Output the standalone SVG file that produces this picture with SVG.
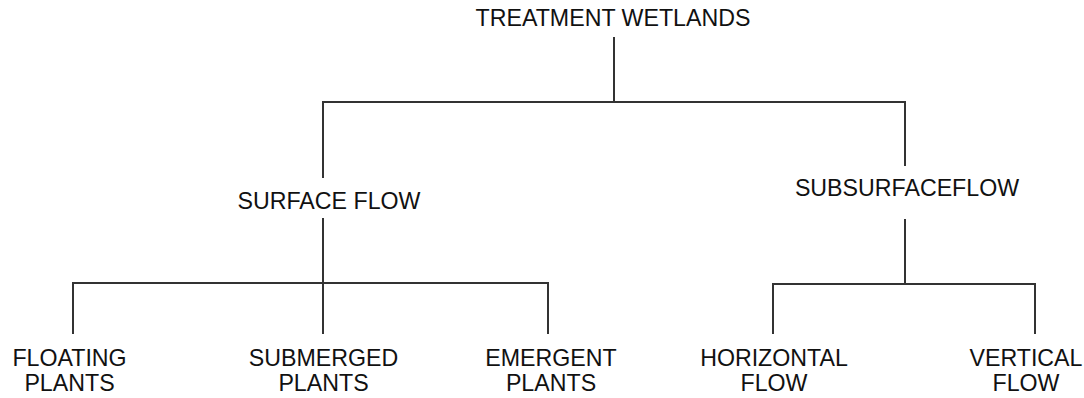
<svg xmlns="http://www.w3.org/2000/svg" width="1084" height="398" viewBox="0 0 1084 398">
<style>
text{font-family:"Liberation Sans",Arial,sans-serif;font-size:23.2px;fill:#111;text-anchor:middle}
.c line{stroke:#333;stroke-width:2;fill:none}
</style>
<rect width="1084" height="398" fill="#fff"/>
<g class="c" id="connectors">
<line x1="614" y1="37" x2="614" y2="102"/>
<line x1="323" y1="102" x2="905" y2="102"/>
<line x1="323" y1="101" x2="323" y2="178"/>
<line x1="905" y1="101" x2="905" y2="166"/>
<line x1="323" y1="218" x2="323" y2="334"/>
<line x1="73" y1="283" x2="548" y2="283"/>
<line x1="73" y1="282" x2="73" y2="334"/>
<line x1="548" y1="282" x2="548" y2="334"/>
<line x1="905" y1="219" x2="905" y2="284"/>
<line x1="773" y1="284" x2="1035" y2="284"/>
<line x1="773" y1="283" x2="773" y2="334"/>
<line x1="1035" y1="283" x2="1035" y2="334"/>
</g>
<g id="treatment-wetlands"><text x="613" y="26">TREATMENT WETLANDS</text></g>
<g id="surface-flow"><text x="329" y="209">SURFACE FLOW</text></g>
<g id="subsurface-flow"><text x="907" y="196">SUBSURFACEFLOW</text></g>
<g id="floating-plants"><text x="69.5" y="366">FLOATING</text><text x="69.5" y="391">PLANTS</text></g>
<g id="submerged-plants"><text x="323.5" y="366">SUBMERGED</text><text x="323.5" y="391">PLANTS</text></g>
<g id="emergent-plants"><text x="551" y="366">EMERGENT</text><text x="551" y="391">PLANTS</text></g>
<g id="horizontal-flow"><text x="774" y="366">HORIZONTAL</text><text x="774" y="391">FLOW</text></g>
<g id="vertical-flow"><text x="1026" y="366">VERTICAL</text><text x="1026" y="391">FLOW</text></g>
</svg>
